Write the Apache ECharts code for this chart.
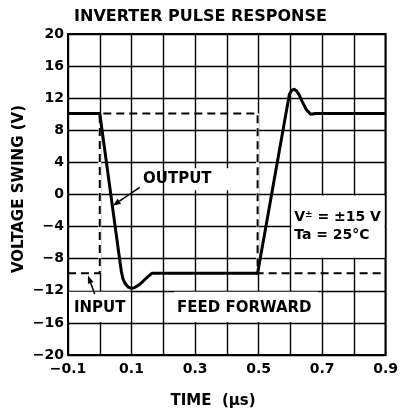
<!DOCTYPE html>
<html>
<head>
<meta charset="utf-8">
<script src="https://cdn.jsdelivr.net/npm/echarts@6/dist/echarts.min.js"></script>
<style>
html, body { margin: 0; padding: 0; background: #fff; }
#box { width: 401px; height: 413px; }
</style>
</head>
<body>
<div id="box"></div>
<script>
// input step (dashed)
var inputT = [-0.1, 0.0, 0.0, 0.497, 0.497, 0.9];
var inputV = [-9.8, -9.8, 10.1, 10.1, -9.8, -9.8];
// output waveform (solid)
var outputT = [-0.1, 0.0, 0.063, 0.068, 0.073, 0.08, 0.09, 0.1, 0.11, 0.126, 0.147, 0.165, 0.497, 0.541, 0.597, 0.605, 0.612, 0.62, 0.628, 0.637, 0.65, 0.664, 0.68, 0.9];
var outputV = [10.1, 10.1, -8.2, -9.6, -10.5, -11.1, -11.55, -11.7, -11.6, -11.2, -10.4, -9.8, -9.8, 0, 12.5, 13.0, 13.1, 12.9, 12.4, 11.6, 10.6, 10.0, 10.1, 10.1];
// tick labels
var xLabelValues = [-0.1, 0.1, 0.3, 0.5, 0.7, 0.9];
var yLabelValues = [20, 16, 12, 8, 4, 0, -4, -8, -12, -16, -20];

var font = 'DejaVu Sans, Verdana, sans-serif';
function fmt(v) {
    return String(v).replace('-', '\u2212');
}

// vertical edges of the input step, drawn white under the dashes so the grid breaks there
var edges = [[inputT[1], inputV[1]], [inputT[2], inputV[2]], ['-', '-'], [inputT[3], inputV[3]], [inputT[4], inputV[4]]];

var chart = echarts.init(document.getElementById('box'));
var option = {
    animation: false,
    grid: {left: 68, right: 14, top: 34, bottom: 58, show: true, borderColor: '#000', borderWidth: 2},
    xAxis: {
        type: 'value', min: -0.1, max: 0.9, interval: 0.1,
        axisLine: {show: false}, axisTick: {show: false},
        splitLine: {lineStyle: {color: '#000', width: 1.4}},
        axisLabel: {
            color: '#000', fontSize: 14, fontWeight: 'bold', fontFamily: font, margin: 7,
            formatter: function (v) {
                var k = Math.round(v * 10) / 10;
                return xLabelValues.indexOf(k) >= 0 ? fmt(k) : '';
            }
        }
    },
    yAxis: {
        type: 'value', min: -20, max: 20, interval: 4,
        axisLine: {show: false}, axisTick: {show: false},
        splitLine: {lineStyle: {color: '#000', width: 1.4}},
        axisLabel: {
            color: '#000', fontSize: 14, fontWeight: 'bold', fontFamily: font, margin: 4,
            formatter: function (v) {
                return yLabelValues.indexOf(v) >= 0 ? fmt(v) : '';
            }
        }
    },
    series: [
        {
            type: 'line', symbol: 'none', z: 2, silent: true,
            data: edges,
            lineStyle: {color: '#fff', width: 3}
        },
        {
            name: 'INPUT', type: 'line', symbol: 'none', z: 3,
            data: inputT.map(function (t, i) { return [t, inputV[i]]; }),
            lineStyle: {color: '#000', width: 2, type: [8, 5]}
        },
        {
            name: 'OUTPUT', type: 'line', symbol: 'none', z: 4,
            data: outputT.map(function (t, i) { return [t, outputV[i]]; }),
            lineStyle: {color: '#000', width: 3, join: 'round'}
        }
    ]
};
chart.setOption(option);

function px(t, v) { return chart.convertToPixel({gridIndex: 0}, [t, v]); }

function whiteBox(a, b) {
    var p = px(a[0], a[1]), q = px(b[0], b[1]);
    return {
        type: 'rect', z: 10,
        shape: {x: p[0] + 1, y: p[1] + 1, width: q[0] - p[0] - 2, height: q[1] - p[1] - 2},
        style: {fill: '#fff'}
    };
}

function label(text, t, v, extra) {
    var p = px(t, v);
    var s = {text: text, fontSize: 15, fontWeight: 'bold', fontFamily: font, fill: '#000', align: 'center', verticalAlign: 'middle'};
    for (var k in (extra || {})) s[k] = extra[k];
    return {type: 'text', z: 12, x: p[0], y: p[1], style: s};
}

function arrow(from, to) {
    var a = px(from[0], from[1]), b = px(to[0], to[1]);
    var ang = Math.atan2(b[1] - a[1], b[0] - a[0]);
    var L = 8, W = 3;
    var bx = b[0] - L * Math.cos(ang), by = b[1] - L * Math.sin(ang);
    var nx = -Math.sin(ang) * W, ny = Math.cos(ang) * W;
    return [
        {type: 'line', z: 12, shape: {x1: a[0], y1: a[1], x2: bx, y2: by}, style: {stroke: '#000', lineWidth: 1.5}},
        {type: 'polygon', z: 12, shape: {points: [[b[0], b[1]], [bx + nx, by + ny], [bx - nx, by - ny]]}, style: {fill: '#000'}}
    ];
}

var graphics = [
    {type: 'text', left: 'center', top: 9, z: 12,
        style: {text: 'INVERTER PULSE RESPONSE', fontSize: 16, fontWeight: 'bold', fontFamily: font, fill: '#000'}},
    {type: 'text', x: 19, y: 189, rotation: Math.PI / 2, z: 12,
        style: {text: 'VOLTAGE SWING (V)', fontSize: 15, fontWeight: 'bold', fontFamily: font, fill: '#000', align: 'center', verticalAlign: 'middle'}},
    {type: 'text', x: 213, y: 401, z: 12,
        style: {text: 'TIME  (\u00b5s)', fontSize: 15, fontWeight: 'bold', fontFamily: font, fill: '#000', align: 'center', verticalAlign: 'middle'}},
    whiteBox([0.6, 0], [0.9, -8]),
    whiteBox([-0.1, -12], [0.1, -16]),
    whiteBox([0.23, -12], [0.69, -16]),
    whiteBox([0.22, 3.4], [0.44, 0.4]),
    label('OUTPUT', 0.244, 1.9),
    label('INPUT', 0.0, -14.1),
    label('FEED FORWARD', 0.455, -14.1),
    label('{a|V}{s|\u00b1}{a| = \u00b115 V}', 0.612, -2.9, {align: 'left', rich: {
        a: {fontSize: 14, fontWeight: 'bold', fontFamily: font},
        s: {fontSize: 9, fontWeight: 'bold', fontFamily: font, verticalAlign: 'top', padding: [0, 0, 6, 0]}}}),
    label('Ta = 25\u00b0C', 0.612, -5.1, {align: 'left', fontSize: 14})
].concat(arrow([0.126, 0.9], [0.041, -1.4]), arrow([-0.016, -12.4], [-0.037, -10.1]));

chart.setOption({graphic: graphics});
</script>
</body>
</html>
